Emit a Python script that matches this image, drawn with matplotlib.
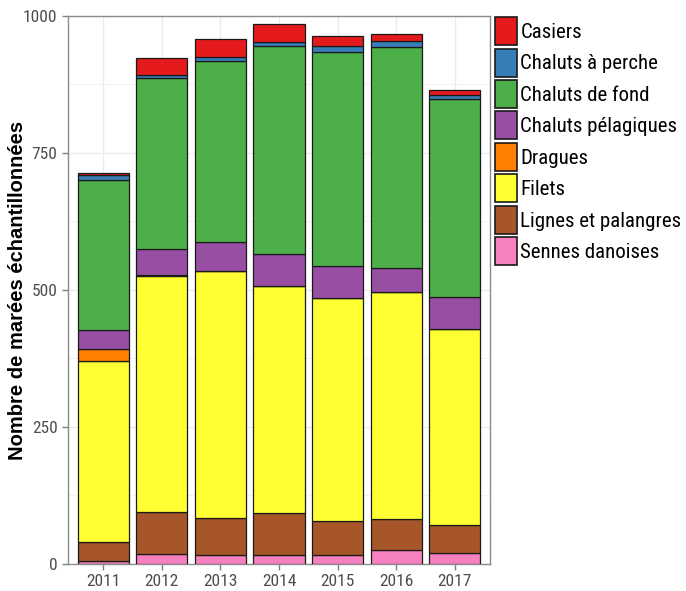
import matplotlib
matplotlib.use("Agg")
import matplotlib.pyplot as plt
import numpy as np
from matplotlib import font_manager

years = ["2011", "2012", "2013", "2014", "2015", "2016", "2017"]

# stacking order: bottom -> top
sennes_danoises = [5, 17, 16, 15, 16, 24, 19]
lignes_palangres = [34, 77, 67, 77, 61, 57, 51]
filets = [331, 431, 451, 414, 408, 415, 359]
dragues = [22, 2, 0, 0, 0, 0, 0]
chaluts_pelagiques = [34, 47, 53, 60, 59, 44, 58]
chaluts_fond = [274, 312, 330, 380, 391, 403, 362]
chaluts_perche = [10, 7, 8, 7, 10, 12, 6]
casiers = [4, 31, 33, 33, 19, 13, 9]

series_names = ["Sennes danoises", "Lignes et palangres", "Filets", "Dragues",
                "Chaluts pélagiques", "Chaluts de fond", "Chaluts à perche", "Casiers"]
series_values = [sennes_danoises, lignes_palangres, filets, dragues,
                 chaluts_pelagiques, chaluts_fond, chaluts_perche, casiers]
series_colors = ["#F781BF", "#A65628", "#FFFF33", "#FF7F00",
                 "#984EA3", "#4DAF4A", "#377EB8", "#E41A1C"]

y_ticks = [0, 250, 500, 750, 1000]
y_label = "Nombre de marées échantillonnées"

available = {f.name for f in font_manager.fontManager.ttflist}
if "Roboto Condensed" in available:
    narrow, tick_size, leg_size = "Roboto Condensed", 12.5, 15
elif "Archivo Narrow" in available:
    narrow, tick_size, leg_size = "Archivo Narrow", 12.5, 15
else:
    narrow, tick_size, leg_size = "Liberation Sans", 10.5, 13.2

W, H = 686, 591
fig = plt.figure(figsize=(W / 100, H / 100), dpi=100)
left, right, top, bottom = 68, 490, 16, 563.5
ax = fig.add_axes([left / W, 1 - bottom / H, (right - left) / W, (bottom - top) / H])

x = np.arange(len(years))
base = np.zeros(len(years))
handles = []
for name, vals, col in zip(series_names, series_values, series_colors):
    vals = np.array(vals, dtype=float)
    b = ax.bar(x, vals, bottom=base, width=0.875, color=col, edgecolor="#1a1a1a",
               linewidth=0.9, label=name, zorder=3)
    handles.append(b)
    base += vals

ax.set_xlim(-0.6, len(years) - 0.4)
ax.set_ylim(0, 1000)
ax.set_yticks(y_ticks)
ax.set_yticks([125, 375, 625, 875], minor=True)
ax.set_xticks(x)
ax.set_xticklabels(years)
ax.grid(True, which="major", color="#EBEBEB", linewidth=1.0, zorder=0)
ax.grid(True, which="minor", axis="y", color="#F2F2F2", linewidth=0.8, zorder=0)
ax.tick_params(axis="both", which="major", colors="#7F7F7F", length=4, width=1,
               labelcolor="#4D4D4D", labelsize=tick_size)
ax.tick_params(axis="y", which="minor", length=0)
for lab in ax.get_xticklabels() + ax.get_yticklabels():
    lab.set_fontfamily(narrow)
for s in ax.spines.values():
    s.set_color("#8C8C8C")
    s.set_linewidth(1.0)

fig.text(18 / W, 1 - 290 / H, y_label, rotation=90, ha="center", va="center",
         fontsize=14.5, fontweight="bold", family="Liberation Sans", color="black")

fs_px = leg_size * 100 / 72
key_h = 28.0
hh = (key_h / fs_px - 0.245) / 0.65
leg = ax.legend(handles[::-1], series_names[::-1], loc="upper left",
                bbox_to_anchor=(495.5 / W, 1 - 17 / H), bbox_transform=fig.transFigure,
                frameon=False, prop={"family": narrow, "size": leg_size},
                handlelength=21 / fs_px, handleheight=hh, handletextpad=4 / fs_px,
                labelspacing=3.5 / fs_px, borderpad=0, borderaxespad=0)
for p in leg.get_patches():
    p.set_edgecolor("#1a1a1a")
    p.set_linewidth(1.2)

fig.savefig("out.png", dpi=100)
